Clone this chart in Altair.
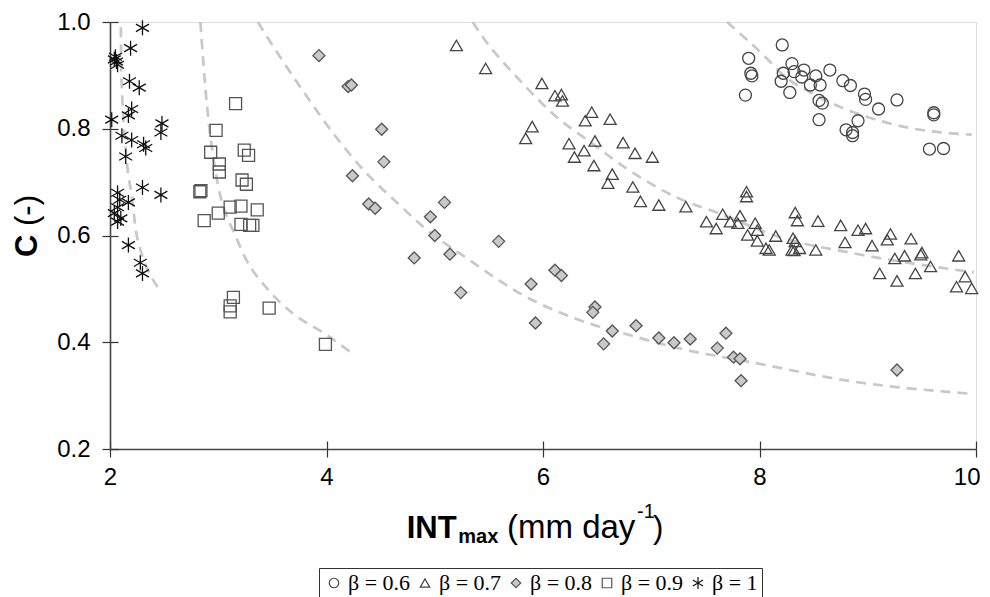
import altair as alt
import pandas as pd

# ---------------- data ----------------
b06_x = [7.90, 7.92, 7.93, 7.87, 8.21, 8.22, 8.20, 8.30, 8.32, 8.41, 8.39, 8.28, 8.52, 8.47, 8.56, 8.65, 8.55,
         8.58, 8.55, 8.77, 8.84, 8.97, 8.98, 9.10, 9.27, 8.91, 8.80, 8.86, 8.86, 9.61, 9.61, 9.57, 9.70]
b06_y = [0.932, 0.904, 0.899, 0.863, 0.957, 0.904, 0.889, 0.922, 0.907, 0.910, 0.897, 0.868, 0.899, 0.882, 0.882,
         0.910, 0.853, 0.848, 0.817, 0.890, 0.881, 0.865, 0.855, 0.837, 0.854, 0.815, 0.798, 0.793, 0.787, 0.830,
         0.826, 0.762, 0.763]

b07_x = [5.20, 5.47, 5.99, 6.11, 6.17, 6.18, 6.45, 6.39, 6.62, 5.90, 5.84, 6.24, 6.48, 6.74, 6.38, 6.85, 6.29,
         7.01, 6.47, 6.64, 6.60, 6.83, 6.90, 7.07, 7.32, 7.88, 7.88, 7.51, 7.60, 7.66, 7.73, 7.82, 7.80, 7.96,
         7.98, 7.89, 7.98, 8.15, 8.06, 8.09, 8.33, 8.35, 8.31, 8.33, 8.37, 8.30, 8.32, 8.54, 8.52, 8.75, 8.79,
         8.91, 8.98, 9.04, 9.21, 9.18, 9.40, 9.25, 9.34, 9.50, 9.49, 9.58, 9.11, 9.27, 9.44, 9.84, 9.90, 9.82, 9.96]
b07_y = [0.956, 0.913, 0.885, 0.862, 0.864, 0.852, 0.831, 0.815, 0.818, 0.804, 0.782, 0.772, 0.777, 0.774, 0.759,
         0.754, 0.747, 0.747, 0.731, 0.715, 0.698, 0.691, 0.664, 0.657, 0.654, 0.682, 0.673, 0.626, 0.613, 0.640,
         0.626, 0.637, 0.623, 0.623, 0.610, 0.601, 0.590, 0.599, 0.576, 0.573, 0.643, 0.628, 0.595, 0.589, 0.576,
         0.573, 0.572, 0.627, 0.573, 0.619, 0.587, 0.610, 0.613, 0.581, 0.603, 0.592, 0.594, 0.557, 0.562, 0.568,
         0.564, 0.542, 0.529, 0.515, 0.529, 0.562, 0.523, 0.504, 0.501]

b08_x = [3.93, 4.20, 4.23, 4.51, 4.53, 4.24, 4.39, 4.45, 5.09, 4.96, 5.00, 4.81, 5.14, 5.59, 5.24, 6.11, 6.17,
         5.89, 6.48, 6.46, 5.93, 6.64, 6.86, 6.56, 7.07, 7.21, 7.36, 7.69, 7.61, 7.76, 7.82, 7.83, 9.27]
b08_y = [0.937, 0.879, 0.882, 0.799, 0.738, 0.712, 0.659, 0.651, 0.662, 0.635, 0.600, 0.558, 0.565, 0.589, 0.493,
         0.535, 0.525, 0.509, 0.466, 0.456, 0.436, 0.421, 0.431, 0.397, 0.408, 0.399, 0.406, 0.417, 0.389, 0.372,
         0.369, 0.328, 0.348]

b09_x = [3.16, 2.98, 2.93, 3.24, 3.28, 3.01, 3.01, 3.22, 3.26, 2.83, 2.84, 3.11, 3.21, 3.36, 3.00, 2.87, 3.21,
         3.29, 3.32, 3.14, 3.11, 3.11, 3.47, 3.99]
b09_y = [0.847, 0.797, 0.756, 0.760, 0.750, 0.734, 0.719, 0.704, 0.696, 0.682, 0.684, 0.653, 0.655, 0.648, 0.642,
         0.628, 0.621, 0.619, 0.619, 0.484, 0.468, 0.457, 0.464, 0.396]

b10_x = [2.30, 2.19, 2.05, 2.06, 2.04, 2.07, 2.18, 2.27, 2.20, 2.17, 2.016, 2.48, 2.47, 2.11, 2.20, 2.31, 2.33,
         2.145, 2.07, 2.30, 2.47, 2.09, 2.17, 2.07, 2.04, 2.10, 2.07, 2.17, 2.28, 2.30]
b10_y = [0.989, 0.951, 0.935, 0.926, 0.930, 0.920, 0.889, 0.877, 0.837, 0.825, 0.817, 0.810, 0.793, 0.787, 0.779,
         0.771, 0.764, 0.748, 0.680, 0.690, 0.676, 0.667, 0.662, 0.653, 0.642, 0.632, 0.626, 0.582, 0.549, 0.529]

# dashed fitted curves
c06_x = [7.70, 8.11, 8.20, 8.48, 8.94, 9.40, 9.96]
c06_y = [1.000, 0.923, 0.904, 0.867, 0.826, 0.801, 0.789]
c07_x = [5.35, 5.44, 5.78, 6.12, 6.45, 6.79, 7.25, 7.62, 8.17, 8.94, 9.98]
c07_y = [1.000, 0.973, 0.892, 0.823, 0.773, 0.723, 0.670, 0.642, 0.598, 0.564, 0.531]
c08_x = [3.365, 3.57, 3.82, 4.06, 4.34, 4.66, 4.89, 5.32, 5.81, 6.33, 6.79, 7.25, 7.99, 8.78, 9.98]
c08_y = [1.000, 0.935, 0.860, 0.792, 0.723, 0.660, 0.617, 0.554, 0.489, 0.442, 0.414, 0.389, 0.360, 0.329, 0.303]
c09_x = [2.835, 2.865, 2.90, 2.94, 3.00, 3.08, 3.14, 3.26, 3.45, 3.69, 4.00, 4.26]
c09_y = [1.000, 0.917, 0.835, 0.767, 0.692, 0.635, 0.608, 0.554, 0.501, 0.454, 0.414, 0.376]
c10_x = [2.100, 2.104, 2.114, 2.129, 2.160, 2.206, 2.237, 2.280, 2.313, 2.466]
c10_y = [0.990, 0.917, 0.854, 0.804, 0.729, 0.667, 0.612, 0.574, 0.554, 0.496]

labels = ["β = 0.6", "β = 0.7", "β = 0.8", "β = 0.9", "β = 1"]
x_ticks = [2, 4, 6, 8, 10]
y_ticks = [0.2, 0.4, 0.6, 0.8, 1.0]

# ---------------- tables ----------------
pts = []
for lab, xs, ys in zip(labels, [b06_x, b07_x, b08_x, b09_x, b10_x], [b06_y, b07_y, b08_y, b09_y, b10_y]):
    for a, b in zip(xs, ys):
        pts.append({"INT": a, "C": b, "beta": lab})
df_pts = pd.DataFrame(pts)

cur = []
for lab, xs, ys in zip(labels, [c06_x, c07_x, c08_x, c09_x, c10_x], [c06_y, c07_y, c08_y, c09_y, c10_y]):
    for a, b in zip(xs, ys):
        cur.append({"INT": a, "C": b, "curve": lab})
df_cur = pd.DataFrame(cur)

AST = "M0,-1.25L0,1.25M-1.08,-0.625L1.08,0.625M-1.08,0.625L1.08,-0.625"
shapes = ["circle", "triangle-up", "diamond", "square", AST]
fills = ["transparent", "transparent", "#c9c9c9", "transparent", "transparent"]
strokes = ["#444444", "#444444", "#555555", "#555555", "#111111"]

FONT = "Liberation Sans"

x_scale = alt.Scale(domain=[2, 10], nice=False, zero=False)
y_scale = alt.Scale(domain=[0.2, 1.0], nice=False, zero=False)

x_axis = alt.Axis(values=x_ticks, title=None, grid=False, labelFont=FONT, labelFontSize=24, labelColor="black",
                  tickSize=8, tickColor="#333", tickWidth=1.2, domainColor="#444", domainWidth=1.6,
                  labelPadding=8, labelFlush=False, orient="bottom",
                  labelAlign={"condition": {"test": "datum.value == 10", "value": "right"}, "value": "center"},
                  labelOffset={"condition": {"test": "datum.value == 10", "value": 4}, "value": 0})
y_axis = alt.Axis(values=y_ticks, format=".1f", title=None, grid=False, labelFont=FONT, labelFontSize=24,
                  labelColor="black", tickSize=8, tickColor="#333", tickWidth=1.2, domainColor="#444",
                  domainWidth=1.6, labelPadding=12, labelFlush=False, orient="left")
x_axis_in = alt.Axis(values=x_ticks, title=None, grid=False, labels=False, domain=False, tickSize=8,
                     tickColor="#333", tickWidth=1.2, offset=-8, orient="bottom")
y_axis_in = alt.Axis(values=y_ticks, title=None, grid=False, labels=False, domain=False, tickSize=8,
                     tickColor="#333", tickWidth=1.2, offset=-8, orient="left")

legend = alt.Legend(title=None, orient="none", legendX=209, legendY=546, direction="horizontal",
                    labelFont="Liberation Serif", labelFontSize=22, labelColor="black", symbolSize=90,
                    symbolStrokeWidth=1.2, strokeColor="#333", padding=4, columnPadding=3, labelOffset=3,
                    fillColor="white")

curves = alt.Chart(df_cur).mark_line(strokeDash=[10, 7], strokeWidth=2.7, color="#c8c8c8",
                                     interpolate="monotone").encode(
    x=alt.X("INT:Q", scale=x_scale, axis=x_axis_in),
    y=alt.Y("C:Q", scale=y_scale, axis=y_axis_in),
    detail="curve:N",
)

points = alt.Chart(df_pts).mark_point(filled=True, opacity=1, strokeWidth=1.3, size=144).encode(
    x=alt.X("INT:Q", scale=x_scale, axis=x_axis),
    y=alt.Y("C:Q", scale=y_scale, axis=y_axis),
    shape=alt.Shape("beta:N", scale=alt.Scale(domain=labels, range=shapes), legend=legend),
    fill=alt.Fill("beta:N", scale=alt.Scale(domain=labels, range=fills), legend=legend),
    stroke=alt.Stroke("beta:N", scale=alt.Scale(domain=labels, range=strokes), legend=legend),
)


def txt(s, x, y, size, weight="normal", angle=0):
    return alt.Chart(pd.DataFrame({"t": [s]})).mark_text(
        align="left", baseline="alphabetic", font=FONT, fontSize=size, fontWeight=weight,
        angle=angle, color="black").encode(x=alt.value(x), y=alt.value(y), text="t:N")


texts = [
    txt("C", -73, 235, 31, "bold", 270),
    txt("(-)", -73, 204, 31, "normal", 270),
    txt("INT", 296.7, 516.3, 31, "bold"),
    txt("max", 348.3, 521.3, 20, "bold"),
    txt("(mm day", 397, 516.3, 33),
    txt("-1", 527, 496, 20),
    txt(")", 543, 516.3, 31),
]

chart = alt.layer(curves, points, *texts).resolve_axis(x="independent", y="independent").properties(
    width=866, height=427, autosize=alt.AutoSizeParams(type="none"),
    padding={"left": 102, "top": 14, "right": 4, "bottom": 148},
).configure_view(stroke="#999999", strokeWidth=1.5).configure(background="white")

chart.save("out.html", embed_options={"renderer": "svg", "actions": False})
